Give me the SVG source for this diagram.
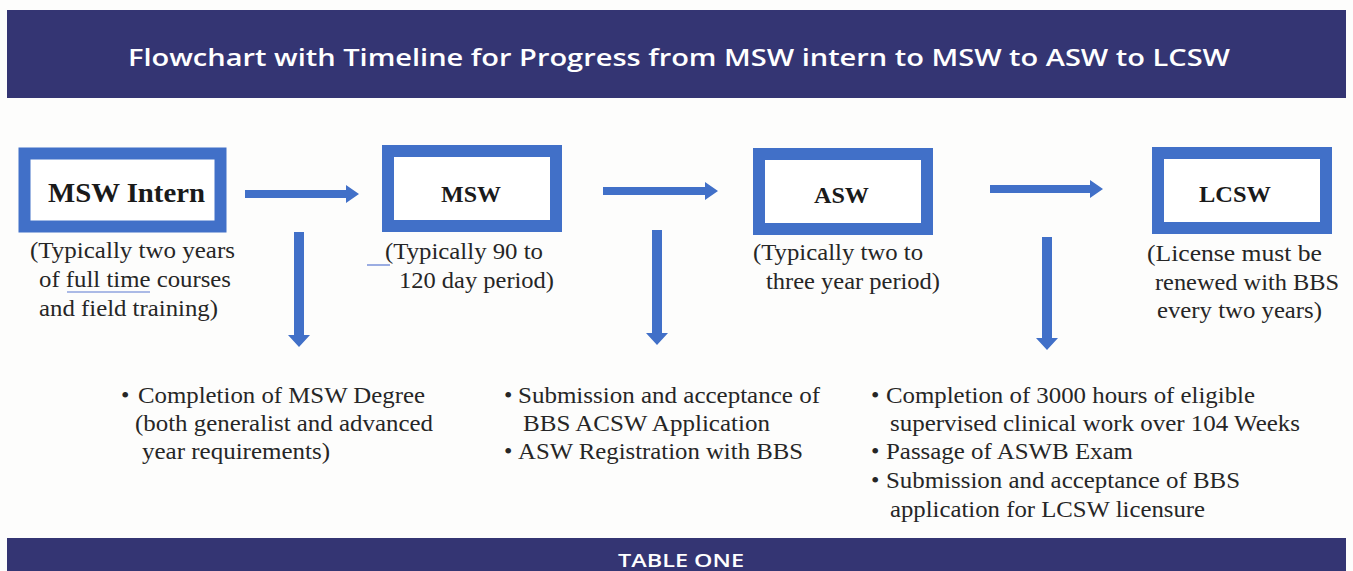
<svg xmlns="http://www.w3.org/2000/svg" width="1353" height="571" viewBox="0 0 1353 571">
  <style>
    .bar { fill: #343573; }
    .bar-text { font-family: "Open Sans", "Liberation Sans", sans-serif; font-weight: 600; fill: #ffffff; }
    .box { fill: #ffffff; stroke: #4170c8; stroke-width: 12; }
    .label { font-family: "Liberation Serif", "Times New Roman", serif; font-weight: bold; fill: #1a1a1a; }
    .note { font-family: "Liberation Serif", "Times New Roman", serif; font-size: 24px; fill: #262626; }
    .arrow { fill: #4170c8; }
    .mark { stroke: #5a78d0; stroke-width: 1.2; fill: none; }
  </style>

  <rect x="0" y="0" width="1353" height="571" fill="#fdfdfc"/>

  <!-- title bar -->
  <g id="title">
    <rect class="bar" x="7" y="10" width="1339" height="88"/>
    <text class="bar-text" x="128" y="66" font-size="22.5" textLength="1102" lengthAdjust="spacingAndGlyphs">Flowchart with Timeline for Progress from MSW intern to MSW to ASW to LCSW</text>
  </g>

  <!-- stage: MSW Intern -->
  <g id="msw-intern">
    <rect class="box" x="24.5" y="153.5" width="196" height="73"/>
    <text class="label" x="48" y="202" font-size="27" textLength="157" lengthAdjust="spacingAndGlyphs">MSW Intern</text>
    <text class="note" x="30" y="258" textLength="205" lengthAdjust="spacingAndGlyphs">(Typically two years</text>
    <text class="note" x="39" y="287" textLength="192" lengthAdjust="spacingAndGlyphs">of full time courses</text>
    <path class="mark" d="M67,292 L150,292"/>
    <text class="note" x="39" y="316" textLength="179" lengthAdjust="spacingAndGlyphs">and field training)</text>
  </g>

  <!-- stage: MSW -->
  <g id="msw">
    <rect class="box" x="388" y="151" width="168" height="75"/>
    <text class="label" x="441" y="202" font-size="24" textLength="60" lengthAdjust="spacingAndGlyphs">MSW</text>
    <path class="mark" d="M367,265 L390,265"/>
    <text class="note" x="385" y="259" textLength="158" lengthAdjust="spacingAndGlyphs">(Typically 90 to</text>
    <text class="note" x="399" y="288" textLength="155" lengthAdjust="spacingAndGlyphs">120 day period)</text>
  </g>

  <!-- stage: ASW -->
  <g id="asw">
    <rect class="box" x="759" y="154" width="168" height="75"/>
    <text class="label" x="814" y="203" font-size="24" textLength="55" lengthAdjust="spacingAndGlyphs">ASW</text>
    <text class="note" x="753" y="260" textLength="170" lengthAdjust="spacingAndGlyphs">(Typically two to</text>
    <text class="note" x="766" y="289" textLength="174" lengthAdjust="spacingAndGlyphs">three year period)</text>
  </g>

  <!-- stage: LCSW -->
  <g id="lcsw">
    <rect class="box" x="1158" y="153" width="168" height="75"/>
    <text class="label" x="1199" y="202" font-size="24" textLength="72" lengthAdjust="spacingAndGlyphs">LCSW</text>
    <text class="note" x="1147" y="261" textLength="175" lengthAdjust="spacingAndGlyphs">(License must be</text>
    <text class="note" x="1155" y="290" textLength="184" lengthAdjust="spacingAndGlyphs">renewed with BBS</text>
    <text class="note" x="1157" y="318" textLength="165" lengthAdjust="spacingAndGlyphs">every two years)</text>
  </g>

  <!-- requirements for each step -->
  <g id="req-msw">
    <text class="note" x="121" y="403">•</text>
    <text class="note" x="138" y="403" textLength="287" lengthAdjust="spacingAndGlyphs">Completion of MSW Degree</text>
    <text class="note" x="135" y="431" textLength="298" lengthAdjust="spacingAndGlyphs">(both generalist and advanced</text>
    <text class="note" x="142" y="459" textLength="188" lengthAdjust="spacingAndGlyphs">year requirements)</text>
  </g>

  <g id="req-asw">
    <text class="note" x="504" y="403">•</text>
    <text class="note" x="518" y="403" textLength="302" lengthAdjust="spacingAndGlyphs">Submission and acceptance of</text>
    <text class="note" x="523" y="431" textLength="247" lengthAdjust="spacingAndGlyphs">BBS ACSW Application</text>
    <text class="note" x="504" y="459">•</text>
    <text class="note" x="518" y="459" textLength="285" lengthAdjust="spacingAndGlyphs">ASW Registration with BBS</text>
  </g>

  <g id="req-lcsw">
    <text class="note" x="871" y="403">•</text>
    <text class="note" x="886" y="403" textLength="369" lengthAdjust="spacingAndGlyphs">Completion of 3000 hours of eligible</text>
    <text class="note" x="890" y="431" textLength="410" lengthAdjust="spacingAndGlyphs">supervised clinical work over 104 Weeks</text>
    <text class="note" x="871" y="459">•</text>
    <text class="note" x="886" y="459" textLength="247" lengthAdjust="spacingAndGlyphs">Passage of ASWB Exam</text>
    <text class="note" x="871" y="488">•</text>
    <text class="note" x="886" y="488" textLength="354" lengthAdjust="spacingAndGlyphs">Submission and acceptance of BBS</text>
    <text class="note" x="890" y="517" textLength="315" lengthAdjust="spacingAndGlyphs">application for LCSW licensure</text>
  </g>

  <!-- connectors -->
  <g id="connectors">
    <!-- horizontal: stage to stage -->
    <polygon class="arrow" points="245,190 346,190 346,185 359,194 346,203 346,198 245,198"/>
    <polygon class="arrow" points="603,187 705,187 705,182 718,191 705,200 705,195 603,195"/>
    <polygon class="arrow" points="990,185 1090,185 1090,180 1103,189 1090,198 1090,193 990,193"/>
    <!-- vertical: stage to requirements -->
    <polygon class="arrow" points="294,232 304,232 304,335 310,335 299,347 288,335 294,335"/>
    <polygon class="arrow" points="652,230 662,230 662,333 668,333 657,345 646,333 652,333"/>
    <polygon class="arrow" points="1042,237 1052,237 1052,338 1058,338 1047,350 1036,338 1042,338"/>
  </g>

  <!-- caption bar -->
  <g id="caption">
    <rect class="bar" x="7" y="538" width="1339" height="33"/>
    <text class="bar-text" x="618" y="567" font-size="18" font-weight="700" textLength="126" lengthAdjust="spacingAndGlyphs">TABLE ONE</text>
  </g>
</svg>
